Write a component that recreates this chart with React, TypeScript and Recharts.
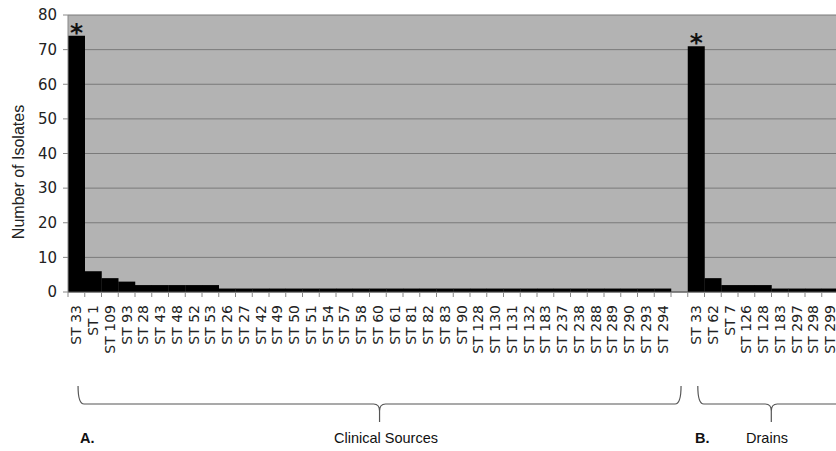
import { BarChart, Bar, XAxis, YAxis, CartesianGrid, LabelList } from 'recharts';

// MLST types per source
const clinicalLabels = [
    "ST 33", "ST 1", "ST 109", "ST 93", "ST 28", "ST 43", "ST 48", "ST 52", "ST 53",
    "ST 26", "ST 27", "ST 42", "ST 49", "ST 50", "ST 51", "ST 54", "ST 57", "ST 58",
    "ST 60", "ST 61", "ST 81", "ST 82", "ST 83", "ST 90", "ST 128", "ST 130", "ST 131",
    "ST 132", "ST 183", "ST 237", "ST 238", "ST 288", "ST 289", "ST 290", "ST 293", "ST 294",
];
const clinicalCounts = [
    74, 6, 4, 3, 2, 2, 2, 2, 2,
    1, 1, 1, 1, 1, 1, 1, 1, 1,
    1, 1, 1, 1, 1, 1, 1, 1, 1,
    1, 1, 1, 1, 1, 1, 1, 1, 1,
];
const drainLabels = ["ST 33", "ST 62", "ST 7", "ST 126", "ST 128", "ST 183", "ST 297", "ST 298", "ST 299"];
const drainCounts = [71, 4, 2, 2, 2, 1, 1, 1, 1];
const starredKeys = ["c0", "d0"]; // ST 33 in both groups
const yTicks = [0, 10, 20, 30, 40, 50, 60, 70, 80];

const data = [
    ...clinicalLabels.map((label, i) => ({ key: `c${i}`, label, count: clinicalCounts[i] as number | null })),
    { key: "gap", label: "", count: null },
    ...drainLabels.map((label, i) => ({ key: `d${i}`, label, count: drainCounts[i] as number | null })),
].map(d => ({ ...d, mark: starredKeys.includes(d.key) ? "*" : "" }));

const labelByKey = new Map(data.map(d => [d.key, d.label]));

const CHART_W = 850;
const CHART_H = 451;
const PLOT_LEFT = 68;
const PLOT_TOP = 15;
const PLOT_BOTTOM = 292;
const MARGIN_RIGHT = 11.5;
const CW = (CHART_W - PLOT_LEFT - MARGIN_RIGHT) / data.length;

const XTick = (props: any) => {
    const { x, payload } = props;
    const label = labelByKey.get(payload.value) ?? "";
    return (
        <g>
            <line x1={x - CW / 2} x2={x - CW / 2} y1={PLOT_BOTTOM} y2={PLOT_BOTTOM + 5} stroke="#888" />
            <text
                transform={`translate(${x + 5},${PLOT_BOTTOM + 13}) rotate(-90)`}
                textAnchor="end"
                fontSize={14}
                fontFamily="DejaVu Sans"
                fill="#222"
            >
                {label}
            </text>
        </g>
    );
};

const Star = (props: any) => {
    const { x, y, width, value } = props;
    if (!value) return null;
    return (
        <text x={x + width / 2} y={y + 5} textAnchor="middle" fontSize={25} fontFamily="DejaVu Sans" fontWeight="bold" fill="#111">
            {value}
        </text>
    );
};

// curly brace under a group of categories
const brace = (l: number, r: number, top: number, mid: number, tip: number) => {
    const c = (l + r) / 2;
    return `M${l},${top} Q${l},${mid} ${l + 6},${mid} H${c - 6} Q${c},${mid} ${c},${mid + 7} L${c},${tip} M${c},${mid + 7} Q${c},${mid} ${c + 6},${mid} H${r - 6} Q${r},${mid} ${r},${top}`;
};

export default function App() {
    const l1 = PLOT_LEFT + 0.6 * CW;
    const r1 = PLOT_LEFT + 36.6 * CW;
    const l2 = PLOT_LEFT + 37.6 * CW;
    const r2 = l2 + 2 * 73.5;
    return (
        <div style={{ position: 'fixed', left: 0, top: 0, width: 836, height: 451, overflow: 'hidden', background: '#fff' }}>
            <BarChart
                width={CHART_W}
                height={CHART_H}
                data={data}
                margin={{ top: PLOT_TOP, right: MARGIN_RIGHT, bottom: 0, left: 0 }}
                barCategoryGap={0}
                barGap={0}
            >
                <CartesianGrid vertical={false} stroke="#7a7a7a" fill="#b3b3b3" />
                <XAxis
                    dataKey="key"
                    interval={0}
                    height={CHART_H - PLOT_BOTTOM}
                    tickLine={false}
                    axisLine={{ stroke: '#555' }}
                    tick={<XTick />}
                />
                <YAxis
                    width={PLOT_LEFT}
                    domain={[0, 80]}
                    ticks={yTicks}
                    tickSize={5}
                    tickMargin={6}
                    axisLine={{ stroke: '#888' }}
                    tickLine={{ stroke: '#888' }}
                    tick={{ fontSize: 15, fontFamily: 'DejaVu Sans', fill: '#222' }}
                    label={{
                        content: () => (
                            <text
                                transform="translate(24,172) rotate(-90)"
                                textAnchor="middle"
                                fontSize={16}
                                fontFamily="Liberation Sans"
                                fill="#222"
                            >
                                Number of Isolates
                            </text>
                        ),
                    }}
                />
                <Bar dataKey="count" fill="#000" isAnimationActive={false}>
                    <LabelList dataKey="mark" content={<Star />} />
                </Bar>
            </BarChart>
            <svg width={836} height={451} style={{ position: 'absolute', left: 0, top: 0, pointerEvents: 'none' }}>
                <g fill="none" stroke="#555" strokeWidth={1.2}>
                    <path d={brace(l1, r1, 386, 404, 422)} />
                    <path d={brace(l2, r2, 386, 404, 422)} />
                </g>
                <g fontFamily="Liberation Sans" fontSize={14.5} fill="#111">
                    <text x={80} y={443} fontWeight="bold">A.</text>
                    <text x={386} y={443} textAnchor="middle">Clinical Sources</text>
                    <text x={695} y={443} fontWeight="bold">B.</text>
                    <text x={767} y={443} textAnchor="middle">Drains</text>
                </g>
            </svg>
        </div>
    );
}
